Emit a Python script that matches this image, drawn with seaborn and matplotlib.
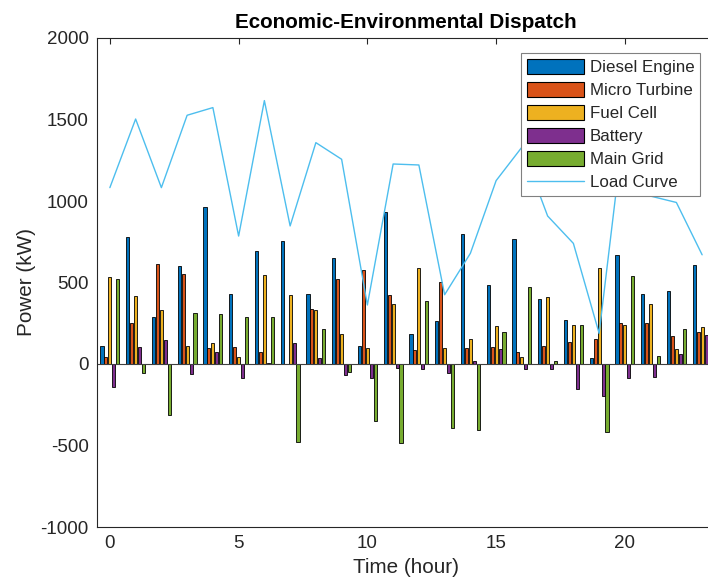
import numpy as np
import pandas as pd
import matplotlib
matplotlib.use('Agg')
import matplotlib.pyplot as plt
import seaborn as sns
from matplotlib.patches import Patch
from matplotlib.lines import Line2D

hours = list(range(24))
sources = ['Diesel Engine', 'Micro Turbine', 'Fuel Cell', 'Battery', 'Main Grid']
diesel = [112, 781, 290, 601, 961, 429, 693, 757, 429, 652, 108, 930,
          186, 266, 796, 485, 767, 397, 272, 35, 669, 427, 450, 607]
micro = [45, 252, 616, 554, 98, 102, 72, 2, 337, 524, 577, 423,
         86, 503, 98, 106, 76, 112, 133, 155, 252, 252, 174, 198]
fuel = [534, 419, 333, 110, 127, 45, 546, 421, 333, 186, 98, 370,
        589, 100, 153, 235, 43, 409, 239, 587, 239, 368, 90, 229]
battery = [-139, 102, 147, -63, 72, -88, 8, 131, 39, -67, -84, -22,
           -33, -57, 20, 94, -33, -33, -153, -194, -88, -78, 59, 178]
grid = [519, -55, -315, 313, 309, 286, 290, -477, 217, -47, -350, -485,
        387, -393, -405, 196, 470, 18, 239, -419, 540, 49, 215, 150]
load = [1082, 1503, 1082, 1526, 1573, 785, 1616, 847, 1358, 1256, 362, 1227,
        1221, 425, 679, 1125, 1330, 908, 740, 188, 1505, 1030, 991, 670]

colors = ['#0072BD', '#D95319', '#EDB120', '#7E2F8E', '#77AC30']
load_color = '#4DBEEE'
txt = '#262626'

df = pd.DataFrame({'Hour': hours * 5,
                   'Source': np.repeat(sources, 24),
                   'Power': diesel + micro + fuel + battery + grid})

sns.set_theme(style='white')
plt.rcParams['font.family'] = ['Liberation Sans', 'DejaVu Sans']
plt.rcParams['axes.unicode_minus'] = False

fig = plt.figure(figsize=(7.08, 5.83), dpi=100)
ax = fig.add_axes([97 / 708, 1 - 527 / 583, 618 / 708, 489 / 583])

sns.barplot(data=df, x='Hour', y='Power', hue='Source', hue_order=sources,
            palette=colors, width=0.77, gap=0.2, errorbar=None,
            edgecolor='black', linewidth=0.6, saturation=1, legend=False, ax=ax)
ax.axhline(0, color='#404040', lw=0.8, zorder=1.5)
sns.lineplot(x=hours, y=load, color=load_color, lw=1.0, ax=ax, legend=False)

ax.set_xlim(-0.5, 23.5)
ax.set_ylim(-1000, 2000)
ax.set_xticks([0, 5, 10, 15, 20])
ax.set_xticklabels(['0', '5', '10', '15', '20'])
ax.set_yticks([-1000, -500, 0, 500, 1000, 1500, 2000])
ax.tick_params(direction='in', length=4.5, width=0.8, top=True, right=True,
               labelsize=13.5, colors=txt, pad=6)
for s in ax.spines.values():
    s.set_color(txt)
    s.set_linewidth(0.8)

ax.set_xlabel('Time (hour)', fontsize=14.85, color=txt, labelpad=4)
ax.set_ylabel('Power (kW)', fontsize=14.85, color=txt, labelpad=3)
ax.set_title('Economic-Environmental Dispatch', fontsize=14.85,
             fontweight='bold', color='black', pad=7)

handles = [Patch(facecolor=c, edgecolor='black', lw=0.8) for c in colors]
handles.append(Line2D([0], [0], color=load_color, lw=1.0))
leg = ax.legend(handles, sources + ['Load Curve'], loc='upper right',
                bbox_to_anchor=(0.976, 0.970), borderaxespad=0, fontsize=12.15,
                handlelength=3.4, handleheight=1.0, handletextpad=0.3,
                labelspacing=0.4, borderpad=0.35, fancybox=False, framealpha=1)
leg.get_frame().set_edgecolor('#808080')
leg.get_frame().set_linewidth(0.8)

fig.savefig('out.png', dpi=100)
